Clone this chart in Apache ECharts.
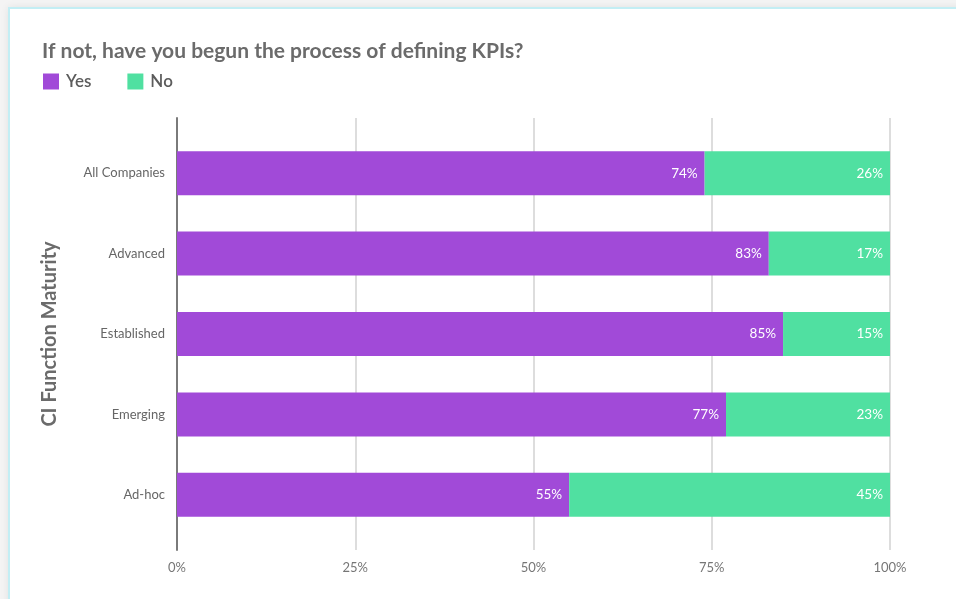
<!DOCTYPE html>
<html>
<head>
<meta charset="utf-8">
<script src="https://cdn.jsdelivr.net/npm/echarts@6/dist/echarts.min.js"></script>
<style>
  html, body { margin: 0; padding: 0; width: 956px; height: 599px; overflow: hidden; background: #f4f4f4; }
  #card { position: absolute; left: 8px; top: 7px; width: 970px; height: 610px; background: #fff; border: 2px solid #c3eef4; box-shadow: 0 0 8px rgba(0,0,0,0.08); }
  #chart { position: absolute; left: 0; top: 0; width: 956px; height: 599px; }
</style>
</head>
<body>
<div id="card"></div>
<div id="chart"></div>
<script>
const categories = ["All Companies", "Advanced", "Established", "Emerging", "Ad-hoc"];
const yesValues = [74, 83, 85, 77, 55];
const noValues = [26, 17, 15, 23, 45];
const xTicks = [0, 25, 50, 75, 100];

const FONT = "Lato";
const chart = echarts.init(document.getElementById('chart'), null, { renderer: 'canvas' });

const labelStyle = {
  show: true,
  position: 'insideRight',
  distance: 7,
  color: '#ffffff',
  fontFamily: FONT,
  fontSize: 13.5,
  formatter: p => p.value + '%'
};

chart.setOption({
  backgroundColor: 'transparent',
  animation: false,
  title: {
    text: 'If not, have you begun the process of defining KPIs?',
    left: 37,
    top: 36,
    textStyle: { fontFamily: FONT, fontSize: 21, fontWeight: 'bold', color: '#6b6b6b' }
  },
  legend: {
    left: 38,
    top: 68,
    itemWidth: 16,
    itemHeight: 16,
    itemGap: 36,
    icon: 'rect',
    data: ['Yes', 'No'],
    textStyle: { fontFamily: FONT, fontSize: 17, fontWeight: 600, color: '#5c5c5c', padding: [2, 0, 0, 2] }
  },
  grid: [
    { left: 177, right: 66, top: 118, bottom: 49 },
    { left: 177, right: 66, top: 133, bottom: 64 }
  ],
  xAxis: [
    {
      gridIndex: 0, type: 'value', min: xTicks[0], max: xTicks[xTicks.length - 1], interval: 25,
      axisLine: { show: false },
      axisTick: { show: false },
      splitLine: { show: true, lineStyle: { color: '#d2d2d2', width: 1.5 } },
      axisLabel: { formatter: '{value}%', fontFamily: FONT, fontSize: 13, color: '#767676', margin: 11 }
    },
    {
      gridIndex: 1, type: 'value', min: 0, max: 100, show: false
    }
  ],
  yAxis: [
    {
      gridIndex: 0, type: 'value', min: 0, max: 1,
      axisLine: { show: true, lineStyle: { color: '#7a7a7a', width: 2 } },
      axisTick: { show: false }, axisLabel: { show: false }, splitLine: { show: false }
    },
    {
      gridIndex: 1, type: 'category', inverse: true, data: categories,
      axisLine: { show: false }, axisTick: { show: false },
      axisLabel: { fontFamily: FONT, fontSize: 13, color: '#666', margin: 12 },
      name: 'CI Function Maturity',
      nameLocation: 'middle',
      nameRotate: 90,
      nameGap: 117,
      nameTextStyle: { fontFamily: FONT, fontSize: 20, fontWeight: 'bold', color: '#6b6b6b' }
    }
  ],
  series: [
    {
      name: 'Yes', type: 'bar', stack: 'total', xAxisIndex: 1, yAxisIndex: 1,
      barWidth: 44, data: yesValues,
      itemStyle: { color: '#a14ad8' },
      label: labelStyle
    },
    {
      name: 'No', type: 'bar', stack: 'total', xAxisIndex: 1, yAxisIndex: 1,
      barWidth: 44, data: noValues,
      itemStyle: { color: '#50e0a1' },
      label: labelStyle
    }
  ]
});
</script>
</body>
</html>
